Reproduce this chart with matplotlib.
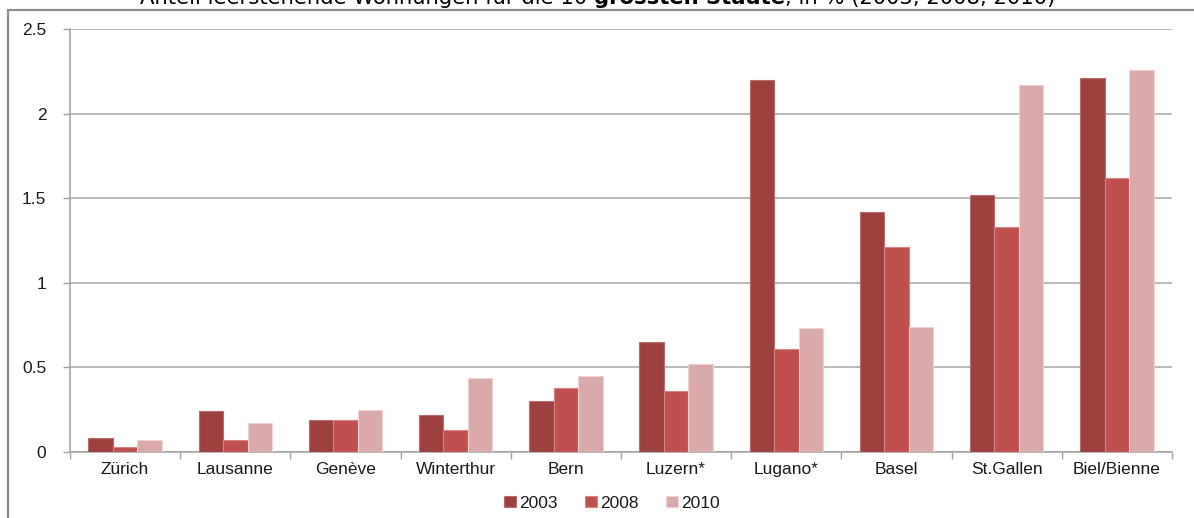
import numpy as np
import matplotlib
matplotlib.use("Agg")
import matplotlib.pyplot as plt
from matplotlib.patches import Rectangle

# Leerwohnungsziffer der zehn grössten Städte (in %)
cities = ["Zürich", "Lausanne", "Genève", "Winterthur", "Bern",
          "Luzern*", "Lugano*", "Basel", "St.Gallen", "Biel/Bienne"]
years = ["2003", "2008", "2010"]
v2003 = [0.08, 0.24, 0.19, 0.22, 0.30, 0.65, 2.20, 1.42, 1.52, 2.21]
v2008 = [0.03, 0.07, 0.19, 0.13, 0.38, 0.36, 0.61, 1.21, 1.33, 1.62]
v2010 = [0.07, 0.17, 0.25, 0.44, 0.45, 0.52, 0.73, 0.74, 2.17, 2.26]
y_ticks = [0, 0.5, 1, 1.5, 2, 2.5]
y_tick_labels = ["0", "0.5", "1", "1.5", "2", "2.5"]

colors = ["#9E403F", "#C0504D", "#DAA9A9"]
edges = ["#B76E6D", "#D58583", "#EFD3D3"]
series = [v2003, v2008, v2010]

W, H = 1194, 518
fig = plt.figure(figsize=(W / 100, H / 100), dpi=100)
fig.patch.set_facecolor("white")

ax = fig.add_axes([70 / W, (H - 452) / H, (1172 - 70) / W, (452 - 29) / H])

n = len(cities)
x = np.arange(n)
bw = 1 / 4.5  # 150 % gap width
for i, (vals, c, ec) in enumerate(zip(series, colors, edges)):
    ax.bar(x + (i - 1) * bw, vals, width=bw, color=c, edgecolor=ec,
           linewidth=0.8, label=years[i], zorder=3)

ax.set_xlim(-0.5, n - 0.5)
ax.set_ylim(0, 2.5)
ax.set_yticks(y_ticks)
ax.set_yticklabels(y_tick_labels)
ax.yaxis.grid(True, color="#A6A6A6", linewidth=1.1, zorder=0)
ax.set_axisbelow(True)

# category labels centred, tick marks on category boundaries
ax.set_xticks(x)
ax.set_xticklabels(cities)
ax.set_xticks(np.arange(-0.5, n, 1.0), minor=True)
ax.tick_params(axis="x", which="major", length=0, pad=7)
ax.tick_params(axis="x", which="minor", length=5, color="#A0A0A0", width=1)
ax.tick_params(axis="y", length=5, color="#A0A0A0", width=1, pad=12)

for lbl in ax.get_xticklabels() + ax.get_yticklabels():
    lbl.set_fontfamily("Liberation Sans")
    lbl.set_fontsize(12.5)
    lbl.set_color("#1A1A1A")

for side in ["top", "right"]:
    ax.spines[side].set_visible(False)
for side in ["left", "bottom"]:
    ax.spines[side].set_color("#A0A0A0")
    ax.spines[side].set_linewidth(1.1)

leg = ax.legend(loc="center", bbox_to_anchor=(612 / W, (H - 503) / H),
                bbox_transform=fig.transFigure, ncol=3, frameon=False,
                handlelength=0.65, handleheight=0.65, handletextpad=0.2,
                columnspacing=1.6,
                prop={"family": "Liberation Sans", "size": 12.5})
for t in leg.get_texts():
    t.set_color("#1A1A1A")

# chart-area frame
frame = Rectangle((8 / W, -0.05), 1.1, (H - 10) / H + 0.05,
                  transform=fig.transFigure, fill=False,
                  edgecolor="#8C8C8C", linewidth=1.6, clip_on=False)
fig.patches.append(frame)

# title, partly running over the top edge
parts = [("Anteil leerstehende Wohnungen für die 10 ", "normal"),
         ("grössten Städte", "bold"),
         (", in % (2003, 2008, 2010)", "normal")]
prev = fig.text(140 / W, (H - 4) / H, parts[0][0], fontsize=15.2,
                fontweight=parts[0][1], family="DejaVu Sans",
                ha="left", va="baseline", color="black")
for txt, wt in parts[1:]:
    prev = ax.annotate(txt, xy=(1, 0), xycoords=prev, fontsize=15.2,
                       fontweight=wt, family="DejaVu Sans",
                       ha="left", va="bottom", color="black",
                       annotation_clip=False)

fig.savefig("out.png", dpi=100, facecolor="white")
